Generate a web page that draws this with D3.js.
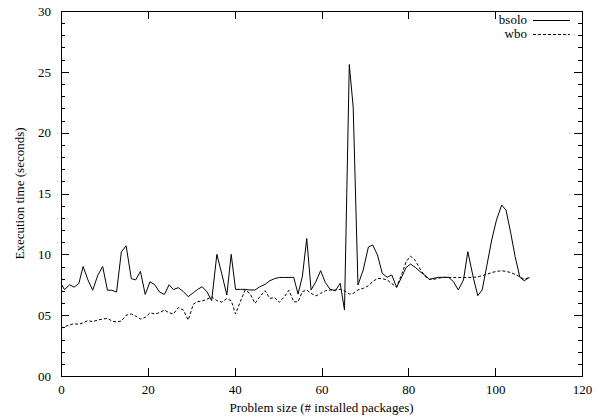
<!DOCTYPE html>
<html><head><meta charset="utf-8">
<script src="https://cdn.jsdelivr.net/npm/d3@7"></script>
<style>body{margin:0;background:#fff}svg{display:block}text{font-family:"Liberation Serif","DejaVu Serif",serif;font-size:13px;fill:#000}</style>
</head><body><svg id="c" width="608" height="419"></svg>
<script>
const sizes = [0,0.8,2,3,4.1,5.1,6.2,7.3,8.5,9.6,10.7,11.7,12.8,13.9,15,16.2,17.2,18.3,19.4,20.5,21.6,22.7,23.8,24.9,25.9,27,28.2,29.3,30.5,31.5,32.5,33.6,34.7,35.9,37,38.2,39.2,40.2,41.3,42.4,43.5,44.7,45.8,47,48.1,49.2,50.3,51.4,52.5,53.6,54.6,55.6,56.6,57.6,58.7,59.8,60.9,62,63.2,64.3,65.3,66.4,67.3,68.4,69.6,70.8,71.8,72.9,74,75.1,76.2,77.3,78.5,79.5,80.5,81.6,82.7,83.8,84.8,85.9,87,88.2,89.3,90.4,91.5,92.7,93.7,95,96,97,98.1,99.2,100.3,101.5,102.5,103.6,104.6,105.7,106.7,107.9];
const bsolo = [7.6,7.1,7.5,7.3,7.6,9.0,7.9,7.05,8.3,9.0,7.05,7.05,6.9,10.2,10.7,8.0,7.9,8.6,6.7,7.75,7.5,6.9,6.7,7.5,7.1,7.26,6.93,6.52,6.85,7.12,7.34,6.93,6.19,10.0,8.44,6.66,10.0,7.12,7.12,7.12,7.07,7.07,7.34,7.53,7.83,8.0,8.1,8.1,8.1,8.11,6.74,8.2,11.3,7.07,7.75,8.66,7.67,7.12,7.01,7.62,5.42,25.6,22.1,7.48,8.71,10.6,10.77,9.94,8.44,8.11,8.3,7.29,8.16,8.93,9.2,8.93,8.58,8.3,7.94,8.03,8.11,8.11,8.11,7.75,7.07,7.89,10.22,8.03,6.6,7.07,9.1,11.18,12.82,14.05,13.64,11.73,9.81,8.11,7.83,8.11];
const wbo = [3.9,4.05,4.2,4.3,4.25,4.38,4.55,4.47,4.6,4.68,4.74,4.52,4.44,4.52,5.0,5.1,4.93,4.68,4.82,5.2,5.1,5.2,5.42,5.2,5.1,5.62,5.42,4.6,5.92,6.11,6.16,6.3,6.52,6.19,6.08,6.36,6.19,5.1,6.11,7.07,6.79,5.97,6.52,7.01,6.38,6.45,6.05,6.5,7.05,6.1,6.1,6.93,7.07,6.79,6.58,6.79,7.01,7.07,7.07,7.12,7.01,6.74,6.79,7.07,7.2,7.42,7.75,8.03,8.0,7.9,7.6,7.3,8.4,9.4,9.85,9.5,8.8,8.2,7.95,7.95,8.05,8.1,8.1,8.1,8.1,8.1,8.1,8.1,8.15,8.25,8.35,8.5,8.6,8.65,8.6,8.5,8.35,8.15,7.95,8.1];
const xTicks = [0,20,40,60,80,100,120];
const yTicks = [0,5,10,15,20,25,30];
const yMinor = d3.range(0,31,1);
const seriesNames = ["bsolo","wbo"];
const xTitle = "Problem size (# installed packages)";
const yTitle = "Execution time (seconds)";

const svg = d3.select("#c");
const L=61,R=582,T=11,B=376;
const x = d3.scaleLinear().domain([0,120]).range([L,R]);
const y = d3.scaleLinear().domain([0,30]).range([B,T]);
const fmt = d3.format("02d");

const g = svg.append("g").attr("stroke","#000").attr("stroke-width",1).attr("shape-rendering","crispEdges");
yMinor.forEach(v=>{
  const len = yTicks.includes(v)?8:4;
  const yy = Math.round(y(v))+0.5;
  g.append("line").attr("x1",L).attr("x2",L+len).attr("y1",yy).attr("y2",yy);
  g.append("line").attr("x1",R-len).attr("x2",R).attr("y1",yy).attr("y2",yy);
});
xTicks.forEach(v=>{
  const xx = Math.round(x(v))+0.5;
  g.append("line").attr("x1",xx).attr("x2",xx).attr("y1",B).attr("y2",B-8);
  g.append("line").attr("x1",xx).attr("x2",xx).attr("y1",T).attr("y2",T+8);
});

const ax = svg.append("g").attr("transform",`translate(0,${B})`).call(d3.axisBottom(x).tickValues(xTicks).tickSize(0).tickPadding(9));
const ay = svg.append("g").attr("transform",`translate(${L},0)`).call(d3.axisLeft(y).tickValues(yTicks).tickFormat(fmt).tickSize(0).tickPadding(10));
[ax,ay].forEach(a=>{a.select(".domain").remove();a.selectAll("text").attr("font-family",'"Liberation Serif",serif').attr("font-size",13).attr("fill","#000");});

svg.append("rect").attr("x",L+0.5).attr("y",T+0.5).attr("width",R-L).attr("height",B-T).attr("fill","none").attr("stroke","#000").attr("stroke-width",1);

const line = d3.line().x((d,i)=>x(sizes[i])).y(d=>y(d));
svg.append("path").datum(bsolo).attr("d",line).attr("fill","none").attr("stroke","#000").attr("stroke-width",1);
svg.append("path").datum(wbo).attr("d",line).attr("fill","none").attr("stroke","#000").attr("stroke-width",1).attr("stroke-dasharray","3,2");

const leg = svg.append("g");
[[seriesNames[0],null,20],[seriesNames[1],"3,2",34]].forEach(([n,da,yy])=>{
  leg.append("text").attr("x",527).attr("y",yy+4).attr("text-anchor","end").attr("font-size",12).text(n);
  leg.append("line").attr("x1",533).attr("x2",570).attr("y1",yy+0.5).attr("y2",yy+0.5).attr("stroke","#000").attr("stroke-dasharray",da);
});

svg.append("text").attr("x",(L+R)/2).attr("y",412).attr("text-anchor","middle").text(xTitle);
svg.append("text").attr("transform",`translate(24,${(T+B)/2}) rotate(-90)`).attr("text-anchor","middle").text(yTitle);
</script></body></html>
